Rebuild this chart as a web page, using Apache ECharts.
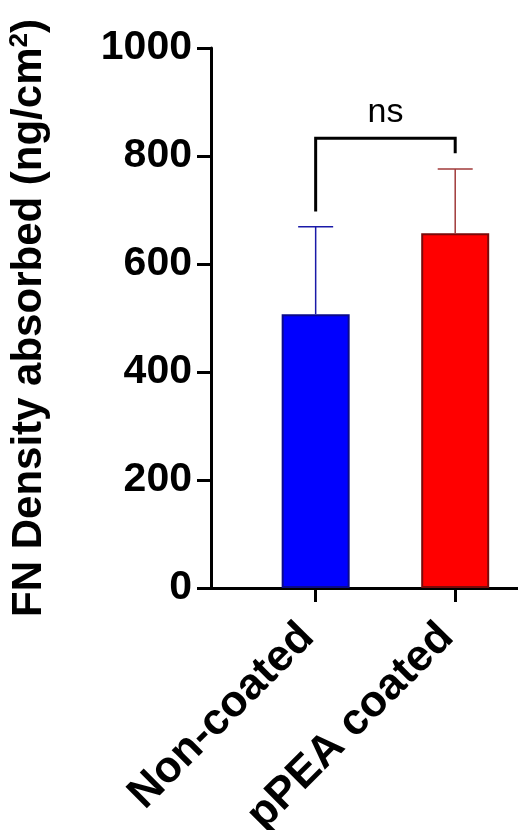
<!DOCTYPE html>
<html>
<head>
<meta charset="utf-8">
<script src="https://cdn.jsdelivr.net/npm/echarts@6/dist/echarts.min.js"></script>
<style>
  html, body { margin: 0; padding: 0; background: #ffffff; }
  #chart { width: 518px; height: 830px; }
</style>
</head>
<body>
<div id="chart"></div>
<script>
// Fibronectin density absorbed on non-coated vs pPEA-coated surfaces
const categories = ['Non-coated', 'pPEA coated'];
const means = [507, 657];
const sds = [162, 119];
const barColors = ['#0000ff', '#ff0000'];
const barBorders = ['#0a0a8c', '#7a0a0a'];
const errColors = ['#1a1aa8', '#a03a3a'];
const yTicks = [0, 200, 400, 600, 800, 1000];
// significance bracket: [left group, right group, left leg end, right leg end, bracket top]
const bracket = [[0, 1, 697, 805, 833]];
const bracketLabel = 'ns';

const FONT = '"Liberation Sans", Arial, sans-serif';

const chart = echarts.init(document.getElementById('chart'), null, { renderer: 'canvas' });

const barData = means.map((m, i) => ({
  value: [i, m],
  itemStyle: { color: barColors[i], borderColor: barBorders[i], borderWidth: 2 }
}));
const errData = means.map((m, i) => [i, m, m + sds[i]]);

chart.setOption({
  animation: false,
  backgroundColor: '#ffffff',
  grid: { left: 211, right: 0, top: 48, bottom: 242, containLabel: false, outerBoundsMode: 'none' },
  xAxis: {
    type: 'value',
    min: -0.75,
    max: 1.45,
    splitLine: { show: false },
    axisLine: { show: true, onZero: false, lineStyle: { color: '#000', width: 3 } },
    axisTick: { show: true, customValues: [0, 1], length: 14, lineStyle: { color: '#000', width: 3 } },
    axisLabel: {
      customValues: [0, 1],
      formatter: v => categories[Math.round(v)],
      rotate: 45,
      margin: 34,
      padding: [0, 12, 0, 0],
      color: '#000',
      fontFamily: FONT,
      fontWeight: 'bold',
      fontSize: 44
    }
  },
  yAxis: {
    type: 'value',
    min: yTicks[0],
    max: yTicks[yTicks.length - 1],
    interval: 200,
    name: 'FN Density absorbed (ng/cm{sup|2})',
    nameLocation: 'middle',
    nameGap: 160,
    nameRotate: 90,
    nameTextStyle: {
      color: '#000',
      fontFamily: FONT,
      fontWeight: 'bold',
      fontSize: 42,
      rich: {
        sup: { fontFamily: FONT, fontWeight: 'bold', fontSize: 26, verticalAlign: 'top', padding: [0, 0, 18, 0], color: '#000' }
      }
    },
    splitLine: { show: false },
    axisLine: { show: true, onZero: false, lineStyle: { color: '#000', width: 3 } },
    axisTick: { show: true, length: 14, lineStyle: { color: '#000', width: 3 } },
    axisLabel: {
      margin: 19,
      formatter: v => String(v),
      color: '#000',
      fontFamily: FONT,
      fontWeight: 'bold',
      fontSize: 41
    }
  },
  series: [
    {
      type: 'bar',
      data: barData,
      barWidth: 68,
      z: 2
    },
    {
      // upper SD whiskers
      type: 'custom',
      z: 3,
      data: errData,
      encode: { x: 0, y: [1, 2] },
      renderItem: function (params, api) {
        const i = params.dataIndex;
        const x = api.value(0);
        const base = api.coord([x, api.value(1)]);
        const top = api.coord([x, api.value(2)]);
        const half = 17.5;
        const style = { stroke: errColors[i], lineWidth: 1.5, fill: null };
        return {
          type: 'group',
          children: [
            { type: 'line', shape: { x1: base[0], y1: base[1], x2: top[0], y2: top[1] }, style: style },
            { type: 'line', shape: { x1: top[0] - half, y1: top[1], x2: top[0] + half, y2: top[1] }, style: style }
          ]
        };
      }
    },
    {
      // significance bracket with label
      type: 'custom',
      z: 4,
      data: bracket,
      encode: { x: [0, 1], y: [2, 3, 4] },
      renderItem: function (params, api) {
        const a = api.value(0), b = api.value(1);
        const la = api.coord([a, api.value(2)]);
        const lb = api.coord([b, api.value(3)]);
        const ta = api.coord([a, api.value(4)]);
        const tb = api.coord([b, api.value(4)]);
        return {
          type: 'group',
          children: [
            {
              type: 'polyline',
              shape: { points: [la, ta, tb, lb] },
              style: { stroke: '#000', lineWidth: 3, fill: null }
            },
            {
              type: 'text',
              x: (ta[0] + tb[0]) / 2,
              y: ta[1] - 9,
              style: {
                text: bracketLabel,
                fontFamily: FONT,
                fontSize: 34,
                fill: '#000',
                align: 'center',
                verticalAlign: 'bottom'
              }
            }
          ]
        };
      }
    }
  ]
});
</script>
</body>
</html>
